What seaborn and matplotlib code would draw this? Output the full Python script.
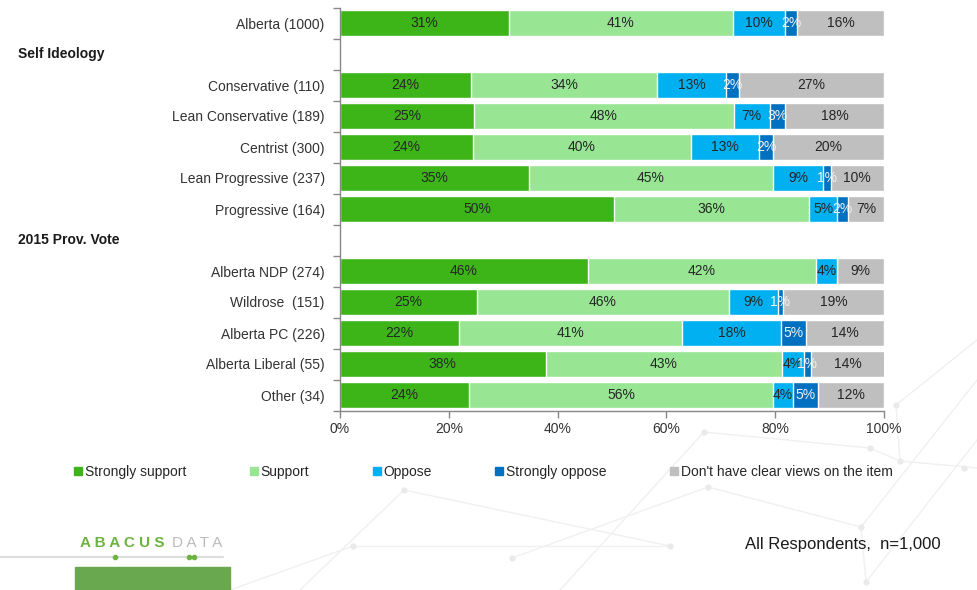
import numpy as np
import pandas as pd
import matplotlib
matplotlib.use("Agg")
import matplotlib.pyplot as plt
from matplotlib.patches import Rectangle
from matplotlib.lines import Line2D
import matplotlib.transforms as mtransforms
import seaborn as sns

# ---------------- data ----------------
categories = ["Alberta (1000)", "Self Ideology", "Conservative (110)", "Lean Conservative (189)",
              "Centrist (300)", "Lean Progressive (237)", "Progressive (164)", "2015 Prov. Vote",
              "Alberta NDP (274)", "Wildrose  (151)", "Alberta PC (226)", "Alberta Liberal (55)",
              "Other (34)"]
headers = ["Self Ideology", "2015 Prov. Vote"]
series = ["Strongly support", "Support", "Oppose", "Strongly oppose",
          "Don't have clear views on the item"]
strongly_support = [31.1, np.nan, 24.1, 24.6, 24.4, 34.7, 50.4, np.nan, 45.6, 25.2, 21.9, 37.8, 23.7]
support          = [41.1, np.nan, 34.2, 47.8, 40.1, 44.9, 35.9, np.nan, 41.9, 46.3, 40.9, 43.4, 55.9]
oppose           = [9.6,  np.nan, 12.7, 6.6, 12.6, 9.2, 5.1, np.nan, 3.9, 9.0, 18.3, 4.1, 3.7]
strongly_oppose  = [2.2,  np.nan, 2.3, 2.8, 2.5, 1.4, 2.0, np.nan, 0.0, 0.9, 4.6, 1.2, 4.6]
no_view          = [16.0, np.nan, 26.7, 18.2, 20.4, 9.8, 6.6, np.nan, 8.6, 18.6, 14.3, 13.6, 12.1]
colors = ["#3DB519", "#98E594", "#00B0F0", "#0070C0", "#BFBFBF"]
label_colors = ["#262626", "#262626", "#262626", "#F2F2F2", "#262626"]
xticks = [0, 20, 40, 60, 80, 100]
xticklabels = ["0%", "20%", "40%", "60%", "80%", "100%"]

# ---------------- figure ----------------
sns.set_theme(style="white")
plt.rcParams["font.family"] = ["Liberation Sans", "DejaVu Sans"]

fig = plt.figure(figsize=(9.77, 5.90), dpi=100)

# decorative background network (faint)
deco = [((353, 546), (670, 546)), ((404, 490), (670, 546)), ((404, 490), (300, 590)),
        ((704, 432), (870, 448)), ((870, 448), (900, 461)), ((896, 405), (900, 461)),
        ((708, 487), (861, 527)), ((861, 527), (866, 582)), ((861, 527), (977, 380)),
        ((512, 558), (708, 487)), ((866, 582), (977, 440)), ((896, 405), (977, 340)),
        ((704, 432), (560, 590)), ((353, 546), (230, 590)), ((900, 461), (977, 468))]
for (x0, y0), (x1, y1) in deco:
    fig.add_artist(Line2D([x0 / 977, x1 / 977], [1 - y0 / 590, 1 - y1 / 590],
                          transform=fig.transFigure, color="#F0F0F0", lw=1, zorder=0))
for (xd, yd) in [(704, 432), (870, 448), (900, 461), (896, 405), (708, 487), (861, 527),
                 (404, 490), (670, 546), (353, 546), (512, 558), (866, 582), (964, 468)]:
    fig.add_artist(Line2D([xd / 977], [1 - yd / 590], transform=fig.transFigure, marker="o",
                          markersize=3.5, color="#EAEAEA", linestyle="", zorder=0))

ax = fig.add_axes([340 / 977, 1 - 410.5 / 590, 544 / 977, 403 / 590])
ax.patch.set_alpha(0)

vals = [strongly_support, support, oppose, strongly_oppose, no_view]
df = pd.DataFrame({s: v for s, v in zip(series, vals)})
df["category"] = categories
cum = df[series].cumsum(axis=1)

# draw stacked bars: largest cumulative first
for i in range(len(series) - 1, -1, -1):
    d = pd.DataFrame({"category": categories, "x": cum[series[i]]})
    sns.barplot(data=d, x="x", y="category", order=categories, color=colors[i],
                orient="h", width=0.84, saturation=1, ax=ax, errorbar=None)

# labels
for i, s in enumerate(series):
    for j, c in enumerate(categories):
        v = df[s].iloc[j]
        if np.isnan(v) or round(v) == 0:
            continue
        center = cum[s].iloc[j] - v / 2
        ax.text(center, j, f"{round(v)}%", ha="center", va="center",
                fontsize=10, color=label_colors[i])

ax.set_xlim(0, 100)
ax.set_ylim(len(categories) - 0.5, -0.5)
ax.set_xlabel("")
ax.set_ylabel("")
ax.set_xticks(xticks)
ax.set_xticklabels(xticklabels, fontsize=10, color="#333333")
ax.set_yticks(range(len(categories)))
ax.set_yticklabels(["" if c in headers else c for c in categories], fontsize=10, color="#333333")
ax.tick_params(axis="y", which="major", length=0, pad=11)
ax.set_yticks(np.arange(-0.5, len(categories), 1), minor=True)
ax.tick_params(axis="y", which="minor", left=True, length=5, color="#888888", width=1)
ax.tick_params(axis="x", which="major", bottom=True, length=5, color="#888888", width=1, pad=3)
for sp in ["top", "right"]:
    ax.spines[sp].set_visible(False)
for sp in ["left", "bottom"]:
    ax.spines[sp].set_color("#888888")
    ax.spines[sp].set_linewidth(1)

# section headers
trans = mtransforms.blended_transform_factory(fig.transFigure, ax.transData)
for h in headers:
    ax.text(18 / 977, categories.index(h), h, transform=trans, ha="left", va="center",
            fontsize=10, fontweight="bold", color="#1a1a1a")

# legend
handles = [Line2D([0], [0], marker="s", linestyle="", markersize=5.5, color=c) for c in colors]
fig.legend(handles, series, loc="center left", bbox_to_anchor=(62 / 977, 1 - 472 / 590),
           ncol=5, frameon=False, fontsize=10, handlelength=0.5, handletextpad=0.25,
           columnspacing=4.6, labelcolor="#262626")

# logo
fig.text(80 / 977, 1 - 543 / 590, "A B A C U S", color="#6DB33F", fontsize=11,
         ha="left", va="center", fontweight="bold")
fig.text(172 / 977, 1 - 543 / 590, "D A T A", color="#BBBBBB", fontsize=11,
         ha="left", va="center")
fig.add_artist(Line2D([0, 223 / 977], [1 - 557 / 590, 1 - 557 / 590],
                      transform=fig.transFigure, color="#DDDDDD", lw=1.5))
for xd in [115, 189, 194]:
    fig.add_artist(Line2D([xd / 977], [1 - 557 / 590], transform=fig.transFigure,
                          marker="o", markersize=3, color="#6DB33F", linestyle=""))
fig.add_artist(Rectangle((75 / 977, 0), 155 / 977, 23 / 590, transform=fig.transFigure,
                         color="#6AA84F", zorder=1))

fig.text(941 / 977, 1 - 545 / 590, "All Respondents,  n=1,000", ha="right", va="center",
         fontsize=12, color="#1a1a1a")

fig.savefig("out.png", dpi=100)
